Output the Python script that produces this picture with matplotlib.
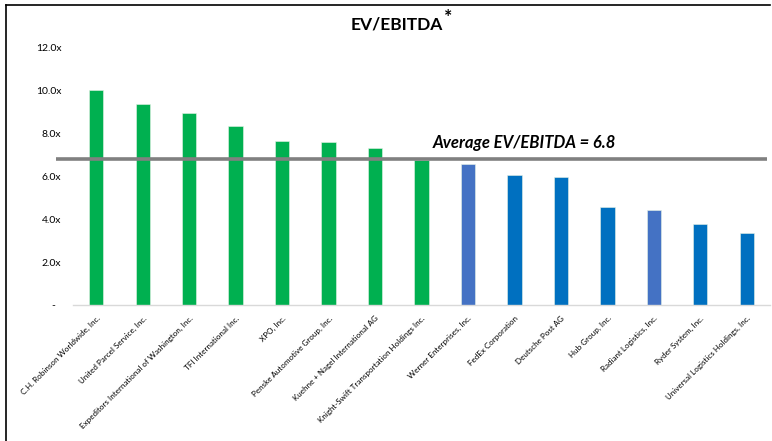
import matplotlib.pyplot as plt
from matplotlib.lines import Line2D

# Company names and EV/EBITDA multiples
companies = [
    "C.H. Robinson Worldwide, Inc.",
    "United Parcel Service, Inc.",
    "Expeditors International of Washington, Inc.",
    "TFI International Inc.",
    "XPO, Inc.",
    "Penske Automotive Group, Inc.",
    "Kuehne + Nagel International AG",
    "Knight-Swift Transportation Holdings Inc.",
    "Werner Enterprises, Inc.",
    "FedEx Corporation",
    "Deutsche Post AG",
    "Hub Group, Inc.",
    "Radiant Logistics, Inc.",
    "Ryder System, Inc.",
    "Universal Logistics Holdings, Inc.",
]
ev_ebitda = [10.05, 9.39, 8.97, 8.38, 7.66, 7.63, 7.32, 6.75,
             6.57, 6.07, 5.97, 4.56, 4.42, 3.78, 3.38]
average = 6.8
y_ticks = [0, 2, 4, 6, 8, 10, 12]
y_tick_labels = ["-  ", "2.0x", "4.0x", "6.0x", "8.0x", "10.0x", "12.0x"]

green = "#00B050"
blue = "#0070C0"
light_blue = "#4472C4"
bar_colors = [green] * 8 + [light_blue, blue, blue, blue, light_blue, blue, blue]

plt.rcParams['font.family'] = ['Lato', 'DejaVu Sans']

fig = plt.figure(figsize=(7.72, 4.41), dpi=100)
ax = fig.add_axes([0.0946, 0.3084, 0.9028, 0.5828])

x = list(range(len(companies)))
ax.bar(x, ev_ebitda, width=0.31, color=bar_colors,
       edgecolor="#E6F2E6", linewidth=0.4, zorder=2)

# Average line, sticking out a little past the left of the plot area
ax.hlines(average, -0.87, 14.44, color="#808080", linewidth=2.6,
          clip_on=False, zorder=3)
ax.text(7.24, average + 0.55, "Average EV/EBITDA = %.1f" % average,
        fontsize=12, fontweight="bold", fontstyle="italic",
        ha="left", va="baseline", color="black")

ax.set_xlim(-0.5, 14.5)
ax.set_ylim(0, 12)
ax.set_yticks(y_ticks)
ax.set_yticklabels(y_tick_labels, fontsize=7.5)
ax.set_xticks(x)
ax.set_xticklabels(companies, rotation=45, ha="right",
                   rotation_mode="anchor", fontsize=5.8)
ax.tick_params(axis="y", length=0, pad=8.5)
ax.tick_params(axis="x", length=0, pad=7)

for side in ["top", "right", "left"]:
    ax.spines[side].set_visible(False)
ax.spines["bottom"].set_color("#D9D9D9")
ax.spines["bottom"].set_linewidth(1.0)

# Title with a raised asterisk
fig.text(0.514, 0.945, "EV/EBITDA", fontsize=12.5, fontweight="bold",
         ha="center", va="center")
fig.text(0.580, 0.961, "*", fontsize=14, fontweight="bold",
         ha="center", va="center")

# Frame lines on the left and top of the image
fig.add_artist(Line2D([0.0078, 0.0078], [0.0, 0.989], color="black",
                      linewidth=1.2, transform=fig.transFigure))
fig.add_artist(Line2D([0.0078, 0.998], [0.989, 0.989], color="black",
                      linewidth=1.2, transform=fig.transFigure))

fig.savefig("out.png", dpi=100)
